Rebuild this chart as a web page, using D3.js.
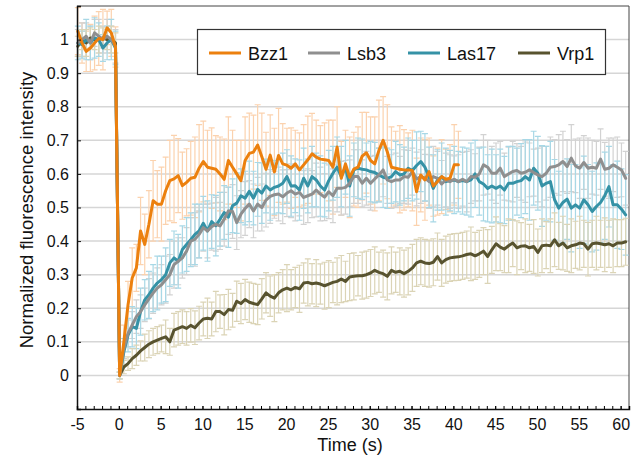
<!DOCTYPE html>
<html>
<head>
  <meta charset="utf-8">
  <title>FRAP recovery</title>
  <script src="https://cdn.jsdelivr.net/npm/d3@7"></script>
  <style>
    body { margin: 0; background: #fff; }
    text { font-family: "Liberation Sans", Arial, Helvetica, sans-serif; fill: #111; }
  </style>
</head>
<body>
  <svg id="chart"></svg>
  <script>
    // time grid: 10 pre-bleach frames, then bleach frame, 0.5 s per frame
    const tStart = -4.9;
    const dt = 0.5;

    const seriesNames = ["Bzz1", "Lsb3", "Las17", "Vrp1"];
    const xTicks = d3.range(-5, 61, 5);
    const yTicks = [0, 0.1, 0.2, 0.3, 0.4, 0.5, 0.6, 0.7, 0.8, 0.9, 1];

    const bzz1 = [
      1.025, 0.99, 0.965, 0.975, 0.99, 1.003, 1.0, 1.035, 1.02, 0.978,
      0, 0.10, 0.21, 0.29, 0.32, 0.43, 0.39, 0.45, 0.52, 0.51,
      0.51, 0.55, 0.58, 0.585, 0.595, 0.565, 0.575, 0.587, 0.59, 0.617,
      0.637, 0.62, 0.617, 0.614, 0.60, 0.584, 0.64, 0.62, 0.60, 0.58,
      0.64, 0.661, 0.665, 0.686, 0.651, 0.614, 0.656, 0.606, 0.655, 0.63,
      0.626, 0.617, 0.63, 0.612, 0.627, 0.642, 0.66, 0.65, 0.644, 0.642,
      0.64, 0.62, 0.68, 0.587, 0.63, 0.59, 0.614, 0.62, 0.653, 0.663,
      0.64, 0.63, 0.67, 0.70, 0.666, 0.62, 0.617, 0.614, 0.612, 0.612,
      0.61, 0.547, 0.597, 0.582, 0.607, 0.564, 0.577, 0.592, 0.584, 0.587,
      0.627, 0.627
    ];
    const bzz1Err = [
      0.07, 0.06, 0.06, 0.07, 0.08, 0.08, 0.09, 0.05, 0.07, 0.06,
      0.02, 0.05, 0.07, 0.09, 0.07, 0.10, 0.09, 0.10, 0.12, 0.10,
      0.11, 0.10, 0.12, 0.13, 0.11, 0.10, 0.10, 0.11, 0.12, 0.13,
      0.12, 0.11, 0.12, 0.10, 0.11, 0.12, 0.13, 0.11, 0.10, 0.12,
      0.13, 0.12, 0.11, 0.12, 0.13, 0.11, 0.12, 0.13, 0.14, 0.12,
      0.11, 0.12, 0.10, 0.11, 0.12, 0.13, 0.12, 0.11, 0.10, 0.11,
      0.12, 0.14, 0.12, 0.11, 0.10, 0.12, 0.11, 0.12, 0.13, 0.12,
      0.13, 0.14, 0.15, 0.13, 0.14, 0.12, 0.11, 0.13, 0.12, 0.11,
      0.12, 0.10, 0.11, 0.12, 0.10, 0.09, 0.10, 0.11, 0.09, 0.10,
      0.12, 0.10
    ];

    const lsb3 = [
      0.99, 1.0, 1.01, 0.99, 1.02, 1.01, 1.0, 1.01, 1.0, 0.98,
      0, 0.08, 0.125, 0.15, 0.175, 0.19, 0.21, 0.228, 0.245, 0.26,
      0.27, 0.285, 0.30, 0.33, 0.34, 0.35, 0.37, 0.40, 0.405, 0.42,
      0.44, 0.43, 0.443, 0.45, 0.445, 0.465, 0.49, 0.488, 0.455, 0.48,
      0.497, 0.51, 0.49, 0.51, 0.50, 0.522, 0.533, 0.538, 0.54, 0.532,
      0.543, 0.55, 0.54, 0.545, 0.53, 0.535, 0.54, 0.552, 0.54, 0.531,
      0.547, 0.535, 0.557, 0.557, 0.56, 0.572, 0.592, 0.592, 0.572, 0.587,
      0.572, 0.585, 0.597, 0.612, 0.582, 0.577, 0.582, 0.582, 0.592, 0.59,
      0.607, 0.585, 0.592, 0.588, 0.577, 0.592, 0.587, 0.57, 0.582, 0.577,
      0.584, 0.577, 0.584, 0.577, 0.592, 0.59, 0.60, 0.627, 0.62, 0.602,
      0.602, 0.617, 0.592, 0.60, 0.607, 0.61, 0.602, 0.605, 0.612, 0.604,
      0.597, 0.592, 0.602, 0.62, 0.622, 0.627, 0.637, 0.622, 0.647, 0.624,
      0.617, 0.634, 0.617, 0.62, 0.617, 0.644, 0.614, 0.617, 0.627, 0.62,
      0.612, 0.587
    ];
    const lsb3Err = [
      0.04, 0.05, 0.04, 0.05, 0.04, 0.05, 0.04, 0.05, 0.04, 0.05,
      0.01, 0.03, 0.04, 0.04, 0.05, 0.05, 0.05, 0.06, 0.06, 0.06,
      0.06, 0.07, 0.06, 0.07, 0.07, 0.06, 0.07, 0.07, 0.08, 0.07,
      0.07, 0.08, 0.07, 0.08, 0.07, 0.08, 0.07, 0.08, 0.08, 0.07,
      0.08, 0.07, 0.08, 0.08, 0.07, 0.08, 0.08, 0.07, 0.08, 0.08,
      0.07, 0.08, 0.08, 0.07, 0.08, 0.08, 0.07, 0.08, 0.08, 0.07,
      0.08, 0.08, 0.07, 0.08, 0.08, 0.07, 0.08, 0.08, 0.07, 0.08,
      0.08, 0.07, 0.08, 0.08, 0.07, 0.08, 0.08, 0.07, 0.08, 0.08,
      0.07, 0.08, 0.08, 0.07, 0.08, 0.09, 0.08, 0.07, 0.08, 0.08,
      0.07, 0.08, 0.08, 0.09, 0.08, 0.07, 0.08, 0.09, 0.08, 0.08,
      0.09, 0.08, 0.07, 0.08, 0.09, 0.08, 0.08, 0.09, 0.08, 0.07,
      0.08, 0.09, 0.08, 0.09, 0.08, 0.09, 0.09, 0.08, 0.10, 0.08,
      0.09, 0.08, 0.09, 0.08, 0.08, 0.09, 0.08, 0.09, 0.08, 0.09,
      0.08, 0.08
    ];

    const las17 = [
      0.99, 0.985, 1.0, 0.99, 1.005, 1.0, 0.975, 0.99, 1.0, 0.975,
      0, 0.07, 0.12, 0.145, 0.14, 0.19, 0.225, 0.24, 0.26, 0.275,
      0.285, 0.30, 0.335, 0.35, 0.34, 0.375, 0.39, 0.404, 0.42, 0.43,
      0.453, 0.43, 0.458, 0.446, 0.465, 0.485, 0.471, 0.505, 0.513, 0.535,
      0.528, 0.548, 0.528, 0.554, 0.543, 0.564, 0.552, 0.56, 0.564, 0.572,
      0.592, 0.564, 0.565, 0.552, 0.587, 0.564, 0.592, 0.582, 0.564, 0.552,
      0.58, 0.602, 0.62, 0.592, 0.62, 0.564, 0.612, 0.617, 0.614, 0.612,
      0.607, 0.604, 0.597, 0.59, 0.587, 0.592, 0.607, 0.597, 0.60, 0.617,
      0.61, 0.625, 0.637, 0.62, 0.59, 0.557, 0.582, 0.592, 0.577, 0.58,
      0.582, 0.577, 0.58, 0.577, 0.582, 0.60, 0.577, 0.57, 0.557, 0.564,
      0.557, 0.564, 0.552, 0.572, 0.572, 0.577, 0.58, 0.592, 0.582, 0.617,
      0.602, 0.564, 0.572, 0.577, 0.523, 0.498, 0.515, 0.525, 0.498, 0.508,
      0.498, 0.523, 0.508, 0.488, 0.503, 0.515, 0.535, 0.562, 0.508, 0.508,
      0.495, 0.478
    ];
    const las17Err = [
      0.05, 0.04, 0.06, 0.05, 0.06, 0.05, 0.04, 0.05, 0.06, 0.05,
      0.01, 0.04, 0.05, 0.06, 0.06, 0.07, 0.06, 0.07, 0.07, 0.08,
      0.07, 0.08, 0.07, 0.08, 0.08, 0.07, 0.08, 0.08, 0.09, 0.08,
      0.08, 0.09, 0.08, 0.09, 0.08, 0.08, 0.09, 0.08, 0.09, 0.08,
      0.08, 0.09, 0.08, 0.08, 0.09, 0.08, 0.09, 0.08, 0.08, 0.09,
      0.08, 0.09, 0.08, 0.09, 0.09, 0.08, 0.09, 0.08, 0.09, 0.08,
      0.09, 0.08, 0.09, 0.09, 0.08, 0.09, 0.08, 0.09, 0.09, 0.08,
      0.09, 0.09, 0.08, 0.09, 0.09, 0.08, 0.09, 0.09, 0.08, 0.09,
      0.09, 0.10, 0.09, 0.10, 0.09, 0.10, 0.09, 0.10, 0.10, 0.09,
      0.10, 0.09, 0.10, 0.10, 0.11, 0.10, 0.10, 0.11, 0.10, 0.11,
      0.10, 0.11, 0.10, 0.11, 0.11, 0.10, 0.11, 0.11, 0.12, 0.11,
      0.11, 0.12, 0.11, 0.12, 0.12, 0.11, 0.12, 0.12, 0.13, 0.12,
      0.12, 0.13, 0.12, 0.12, 0.13, 0.12, 0.13, 0.12, 0.12, 0.13,
      0.12, 0.12
    ];

    const vrp1 = [
      0.98, 1.0, 0.99, 1.005, 1.0, 1.0, 1.005, 1.0, 1.0, 0.99,
      0, 0.025, 0.035, 0.05, 0.06, 0.073, 0.083, 0.093, 0.10, 0.105,
      0.11, 0.115, 0.10, 0.135, 0.14, 0.145, 0.14, 0.149, 0.142, 0.156,
      0.168, 0.17, 0.168, 0.19, 0.19, 0.181, 0.196, 0.194, 0.221, 0.214,
      0.226, 0.218, 0.214, 0.211, 0.228, 0.246, 0.236, 0.23, 0.246, 0.255,
      0.26, 0.255, 0.262, 0.258, 0.275, 0.277, 0.273, 0.275, 0.272, 0.267,
      0.272, 0.277, 0.28, 0.287, 0.28, 0.293, 0.295, 0.297, 0.297, 0.30,
      0.305, 0.313, 0.307, 0.303, 0.295, 0.313, 0.307, 0.31, 0.303, 0.31,
      0.32, 0.335, 0.34, 0.335, 0.333, 0.337, 0.354, 0.335, 0.345, 0.35,
      0.352, 0.353, 0.356, 0.36, 0.362, 0.356, 0.362, 0.37, 0.354, 0.374,
      0.392, 0.382, 0.376, 0.386, 0.394, 0.38, 0.385, 0.386, 0.38, 0.384,
      0.366, 0.386, 0.388, 0.386, 0.404, 0.386, 0.394, 0.38, 0.386, 0.389,
      0.394, 0.392, 0.376, 0.392, 0.394, 0.392, 0.389, 0.392, 0.386, 0.394,
      0.394, 0.398
    ];
    const vrp1Err = [
      0.03, 0.03, 0.04, 0.03, 0.03, 0.04, 0.03, 0.03, 0.04, 0.03,
      0.01, 0.02, 0.02, 0.03, 0.03, 0.03, 0.04, 0.04, 0.04, 0.04,
      0.04, 0.05, 0.04, 0.05, 0.05, 0.05, 0.05, 0.05, 0.05, 0.05,
      0.05, 0.06, 0.05, 0.06, 0.05, 0.06, 0.06, 0.05, 0.06, 0.06,
      0.06, 0.06, 0.06, 0.06, 0.06, 0.06, 0.06, 0.07, 0.06, 0.06,
      0.07, 0.06, 0.06, 0.07, 0.06, 0.07, 0.06, 0.07, 0.06, 0.07,
      0.07, 0.06, 0.07, 0.07, 0.06, 0.07, 0.07, 0.06, 0.07, 0.07,
      0.07, 0.07, 0.06, 0.07, 0.07, 0.07, 0.06, 0.07, 0.07, 0.07,
      0.07, 0.07, 0.07, 0.07, 0.07, 0.07, 0.07, 0.07, 0.07, 0.07,
      0.07, 0.07, 0.07, 0.07, 0.08, 0.07, 0.07, 0.07, 0.08, 0.07,
      0.08, 0.07, 0.07, 0.08, 0.07, 0.08, 0.07, 0.08, 0.07, 0.08,
      0.07, 0.08, 0.07, 0.08, 0.08, 0.07, 0.08, 0.07, 0.08, 0.07,
      0.08, 0.07, 0.08, 0.07, 0.08, 0.07, 0.08, 0.07, 0.08, 0.07,
      0.07, 0.07
    ];

    const lineColors = ["#ec800e", "#8f8f8f", "#3592a6", "#58532f"];
    const errColors = ["#fbd2ae", "#d2d2d2", "#a8d8e6", "#dbd4b6"];

    const W = 640, H = 464;
    const plotLeft = 77, plotRight = 629, plotTop = 6, plotBottom = 409;

    const svg = d3.select("#chart").attr("width", W).attr("height", H);

    const x = d3.scaleLinear().domain([-5, 61]).range([plotLeft, plotRight]);
    const y = d3.scaleLinear().domain([-0.1, 1.1]).range([plotBottom, plotTop]);

    const errs = [bzz1Err, lsb3Err, las17Err, vrp1Err];
    const series = [bzz1, lsb3, las17, vrp1].map((vals, k) => ({
      name: seriesNames[k],
      color: lineColors[k],
      errColor: errColors[k],
      points: vals.map((v, i) => ({ t: tStart + i * dt, v: v, e: errs[k][i] }))
    }));

    // gridlines
    svg.append("g")
      .selectAll("line")
      .data(yTicks)
      .join("line")
      .attr("x1", plotLeft).attr("x2", plotRight)
      .attr("y1", d => y(d)).attr("y2", d => y(d))
      .attr("stroke", "#d6d6d6")
      .attr("stroke-width", 1.5);

    // frame top / right
    svg.append("path")
      .attr("d", `M${plotLeft},${plotTop}H${plotRight}V${plotBottom}`)
      .attr("fill", "none")
      .attr("stroke", "#444")
      .attr("stroke-width", 1);

    // error bars
    const capW = 3;
    series.forEach(s => {
      const g = svg.append("g")
        .attr("stroke", s.errColor)
        .attr("stroke-width", 1.2)
        .attr("fill", "none");
      g.selectAll("path")
        .data(s.points)
        .join("path")
        .attr("d", d => {
          const px = x(d.t), y1 = y(d.v + d.e), y0 = y(d.v - d.e);
          return `M${px},${y0}V${y1}M${px - capW},${y1}H${px + capW}M${px - capW},${y0}H${px + capW}`;
        });
    });

    // lines, Bzz1 on top
    const line = d3.line().x(d => x(d.t)).y(d => y(d.v));
    [3, 2, 1, 0].forEach(k => {
      svg.append("path")
        .datum(series[k].points)
        .attr("d", line)
        .attr("fill", "none")
        .attr("stroke", series[k].color)
        .attr("stroke-width", 3)
        .attr("stroke-linejoin", "round")
        .attr("stroke-linecap", "round");
    });

    // axes
    const yAxis = svg.append("g")
      .attr("transform", `translate(${plotLeft},0)`)
      .call(d3.axisLeft(y).tickValues(yTicks).tickSize(-4).tickPadding(8)
        .tickFormat(d => String(+d.toFixed(1))));
    const xAxis = svg.append("g")
      .attr("transform", `translate(0,${plotBottom})`)
      .call(d3.axisBottom(x).tickValues(xTicks).tickSize(-3).tickPadding(10)
        .tickFormat(d => String(d)));
    svg.append("g")
      .attr("transform", `translate(0,${plotBottom})`)
      .call(d3.axisBottom(x).tickValues(d3.range(-5, 62, 1)).tickSize(-3).tickFormat(""))
      .select(".domain").remove();

    [yAxis, xAxis].forEach(a => {
      a.select(".domain").attr("stroke", "#111").attr("stroke-width", 1.5);
      a.selectAll(".tick line").attr("stroke", "#111");
      a.selectAll(".tick text").style("font-size", "16px")
        .style("font-family", '"Liberation Sans", Arial, sans-serif').attr("fill", "#111");
    });

    // axis titles
    svg.append("text")
      .attr("x", 350).attr("y", 450.5)
      .attr("text-anchor", "middle")
      .style("font-size", "18px")
      .text("Time (s)");
    svg.append("text")
      .attr("transform", "rotate(-90)")
      .attr("x", -210).attr("y", 33)
      .attr("text-anchor", "middle")
      .style("font-size", "18.5px")
      .text("Normalized fluorescence intensity");

    // legend
    const legend = svg.append("g");
    legend.append("rect")
      .attr("x", 197.5).attr("y", 29.5)
      .attr("width", 408).attr("height", 45)
      .attr("fill", "#fff")
      .attr("stroke", "#333")
      .attr("stroke-width", 1.2);
    const legendX = [209, 308, 408, 518];
    seriesNames.forEach((name, k) => {
      legend.append("line")
        .attr("x1", legendX[k]).attr("x2", legendX[k] + 32)
        .attr("y1", 53).attr("y2", 53)
        .attr("stroke", lineColors[k])
        .attr("stroke-width", 3);
      legend.append("text")
        .attr("x", legendX[k] + 39).attr("y", 59.5)
        .style("font-size", "18px")
        .text(name);
    });
  </script>
</body>
</html>
